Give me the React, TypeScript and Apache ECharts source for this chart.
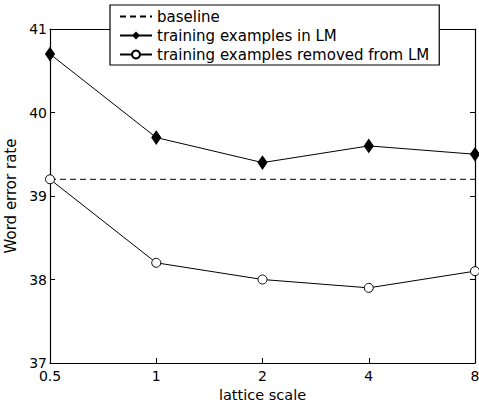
import React, { useEffect, useRef } from "react";
import * as echarts from "echarts";

const categories = ["0.5", "1", "2", "4", "8"];
const baseline = [39.2, 39.2, 39.2, 39.2, 39.2];
const inLM = [40.7, 39.7, 39.4, 39.6, 39.5];
const removedLM = [39.2, 38.2, 38.0, 37.9, 38.1];
const yTicks = [37, 38, 39, 40, 41];

const FONT = "'DejaVu Sans', 'Liberation Sans', Arial, sans-serif";

export default function App() {
  const ref = useRef<HTMLDivElement>(null);
  useEffect(() => {
    if (!ref.current) return;
    document.body.style.margin = "0";
    const chart = echarts.init(ref.current, null, { renderer: "svg" });
    const axisLine = { show: true, lineStyle: { color: "#000", width: 1.2 } };
    const tick = { show: true, inside: true, length: 5, lineStyle: { color: "#000", width: 1 } };
    chart.setOption({
      animation: false,
      backgroundColor: "#fff",
      textStyle: { fontFamily: FONT, color: "#000" },
      grid: {
        left: 50,
        top: 29,
        right: 4,
        bottom: 39,
        containLabel: false,
        outerBoundsMode: "none",
      },
      legend: {
        orient: "vertical",
        left: 110,
        top: 5,
        itemWidth: 32,
        itemHeight: 10,
        itemGap: 4,
        padding: [4, 10, 3, 9],
        backgroundColor: "#fff",
        borderColor: "#000",
        borderWidth: 1.2,
        borderRadius: 0,
        textStyle: { fontFamily: FONT, fontSize: 15, color: "#000" },
        data: [
          { name: "baseline", itemStyle: { color: "rgba(0,0,0,0)", borderWidth: 0, opacity: 0 } },
          { name: "training examples in LM" },
          { name: "training examples removed from LM" },
        ],
      },
      xAxis: [
        {
          type: "category",
          data: categories,
          boundaryGap: false,
          name: "lattice scale",
          nameLocation: "middle",
          nameGap: 16,
          nameTextStyle: { fontFamily: FONT, fontSize: 14.5, color: "#000", lineHeight: 15 },
          axisLine,
          axisTick: tick,
          axisLabel: { fontFamily: FONT, fontSize: 14, color: "#000", margin: 6 },
          splitLine: { show: false },
        },
        {
          type: "category",
          data: categories,
          boundaryGap: false,
          position: "top",
          axisLine,
          axisTick: tick,
          axisLabel: { show: false },
          splitLine: { show: false },
        },
      ],
      yAxis: [
        {
          type: "value",
          min: 37,
          max: 41,
          interval: 1,
          name: "Word error rate",
          nameLocation: "middle",
          nameGap: 25,
          nameTextStyle: { fontFamily: FONT, fontSize: 15, color: "#000" },
          axisLine,
          axisTick: tick,
          axisLabel: {
            fontFamily: FONT,
            fontSize: 14,
            color: "#000",
            margin: 3,
            formatter: (v: number) => (yTicks.includes(v) ? String(v) : ""),
          },
          splitLine: { show: false },
        },
        {
          type: "value",
          min: 37,
          max: 41,
          interval: 1,
          position: "right",
          axisLine,
          axisTick: tick,
          axisLabel: { show: false },
          splitLine: { show: false },
        },
      ],
      series: [
        {
          name: "baseline",
          type: "line",
          data: baseline,
          symbol: "none",
          lineStyle: { color: "#000", width: 1, type: [6, 4] },
          itemStyle: { color: "#000" },
        },
        {
          name: "training examples in LM",
          type: "line",
          data: inLM,
          symbol: "diamond",
          symbolSize: [9, 13],
          lineStyle: { color: "#000", width: 1 },
          itemStyle: { color: "#000", borderColor: "#000" },
        },
        {
          name: "training examples removed from LM",
          type: "line",
          data: removedLM,
          symbol: "circle",
          symbolSize: 9,
          lineStyle: { color: "#000", width: 1 },
          itemStyle: { color: "#fff", borderColor: "#000", borderWidth: 1 },
        },
      ],
    });
    return () => chart.dispose();
  }, []);
  return <div ref={ref} style={{ width: 479, height: 402, background: "#fff" }} />;
}
